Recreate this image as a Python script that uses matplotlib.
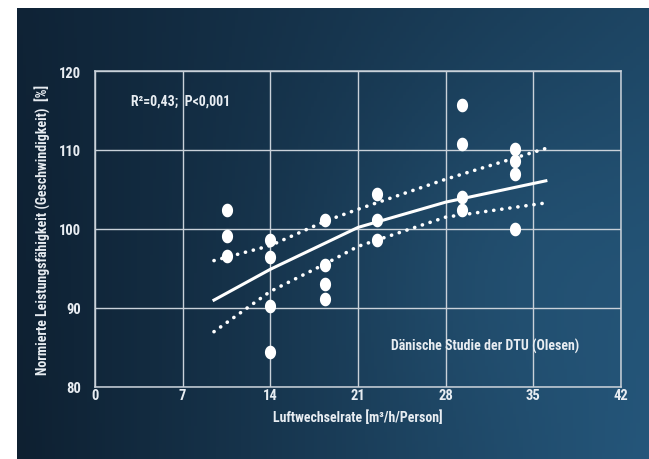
import numpy as np
import matplotlib
matplotlib.use("Agg")
import matplotlib.pyplot as plt
from matplotlib.path import Path
from matplotlib import font_manager

# ---- data ----
x_ticks = [0, 7, 14, 21, 28, 35, 42]
y_ticks = [80, 90, 100, 110, 120]

pts_x = [10.5, 10.5, 10.5,
         14, 14, 14, 14,
         18.4, 18.4, 18.4, 18.4,
         22.5, 22.5, 22.5,
         29.3, 29.3, 29.3, 29.3,
         33.5, 33.5, 33.5, 33.5]
pts_y = [102.4, 99.1, 96.6,
         98.6, 96.5, 90.2, 84.4,
         101.1, 95.5, 93.0, 91.1,
         104.4, 101.2, 98.6,
         115.7, 110.8, 104.0, 102.4,
         110.1, 108.6, 107.0, 100.0]

fit_x = [9.5, 14, 21, 28, 36]
fit_y = [91.0, 94.9, 100.2, 103.4, 106.1]

upper_x = [9.5, 14, 18.4, 21, 28, 36]
upper_y = [96.0, 97.9, 101.0, 102.5, 106.3, 110.2]

lower_x = [9.5, 14, 18.4, 21, 28, 36]
lower_y = [87.0, 92.1, 95.6, 97.8, 101.5, 103.3]

title_note = "R²=0,43;  P<0,001"
source_note = "Dänische Studie der DTU (Olesen)"
xlabel = "Luftwechselrate [m³/h/Person]"
ylabel = "Normierte Leistungsfähigkeit (Geschwindigkeit)  [%]"

names = {f.name for f in font_manager.fontManager.ttflist}
cands = ["Liberation Sans Narrow", "Roboto Condensed", "Open Sans Condensed",
         "DejaVu Sans Condensed"]
font = None
for c in cands:
    if c in names:
        font = c
        break
stretch = "normal"
if font is None:
    font = "DejaVu Sans"
    stretch = "condensed"
fam = [font, "DejaVu Sans"]

W, H = 649, 460
fig = plt.figure(figsize=(W / 100, H / 100), dpi=100)
fig.patch.set_facecolor("white")

# background gradient panel
bg = fig.add_axes([17 / W, 0, 1 - 17 / W, (H - 9) / H])
bg.set_axis_off()
nx, ny = 200, 150
gx = np.linspace(0, 1, nx)[None, :]
gy = np.linspace(0, 1, ny)[:, None]
c_tl = np.array([0x0f, 0x23, 0x36]) / 255
c_tr = np.array([0x1d, 0x45, 0x63]) / 255
c_bl = np.array([0x0e, 0x20, 0x31]) / 255
c_br = np.array([0x24, 0x55, 0x79]) / 255
img = ((1 - gx) * (1 - gy))[..., None] * c_tl + (gx * (1 - gy))[..., None] * c_tr \
    + ((1 - gx) * gy)[..., None] * c_bl + (gx * gy)[..., None] * c_br
band = np.exp(-((gx - 0.75) ** 2) / 0.08) * np.exp(-((gy - 0.55) ** 2) / 0.15)
img = np.clip(img + band[..., None] * np.array([0.02, 0.04, 0.05]), 0, 1)
bg.imshow(img, aspect="auto", extent=[0, 1, 0, 1], origin="upper")
bg.set_xlim(0, 1)
bg.set_ylim(0, 1)

ax = fig.add_axes([95 / W, 1 - 388 / H, 526 / W, 316 / H])
ax.patch.set_alpha(0)
ax.set_xlim(0, 42)
ax.set_ylim(80, 120)
ax.set_xticks(x_ticks)
ax.set_yticks(y_ticks)

grid_c = "#c9d1d9"
for s in ax.spines.values():
    s.set_color(grid_c)
    s.set_linewidth(1.1)
ax.grid(True, color=grid_c, linewidth=1.0)
ax.set_axisbelow(True)

txt_c = "#e8edf2"
ax.tick_params(length=0, labelcolor=txt_c, labelsize=10.5)
ax.tick_params(axis="x", pad=1)
ax.tick_params(axis="y", pad=10)
for lab in ax.get_xticklabels() + ax.get_yticklabels():
    lab.set_fontfamily(fam)
    lab.set_fontweight("bold")
    lab.set_fontstretch(stretch)

# ellipse marker
t = np.linspace(0, 2 * np.pi, 60)
verts = np.column_stack([0.82 * np.cos(t), np.sin(t)])
ell = Path(verts, closed=True)

ax.plot(fit_x, fit_y, color="white", linewidth=2.2, zorder=3)
ax.plot(upper_x, upper_y, color="white", linewidth=2.6, linestyle=(0, (0.05, 2.2)),
        dash_capstyle="round", zorder=3)
ax.plot(lower_x, lower_y, color="white", linewidth=2.6, linestyle=(0, (0.05, 2.2)),
        dash_capstyle="round", zorder=3)
ax.plot(pts_x, pts_y, linestyle="none", marker=ell, markersize=9.8,
        color="white", markeredgewidth=0, zorder=4)

tk = dict(color=txt_c, fontsize=10, fontweight="bold", family=fam, fontstretch=stretch)
ax.text(0.068, 0.908, title_note, transform=ax.transAxes, va="center", **tk)
ax.text(0.563, 0.131, source_note, transform=ax.transAxes, va="center", **tk)

ax.set_xlabel(xlabel, labelpad=5, **tk)
ax.set_ylabel(ylabel, labelpad=6, **tk)

fig.savefig("out.png", dpi=100)
